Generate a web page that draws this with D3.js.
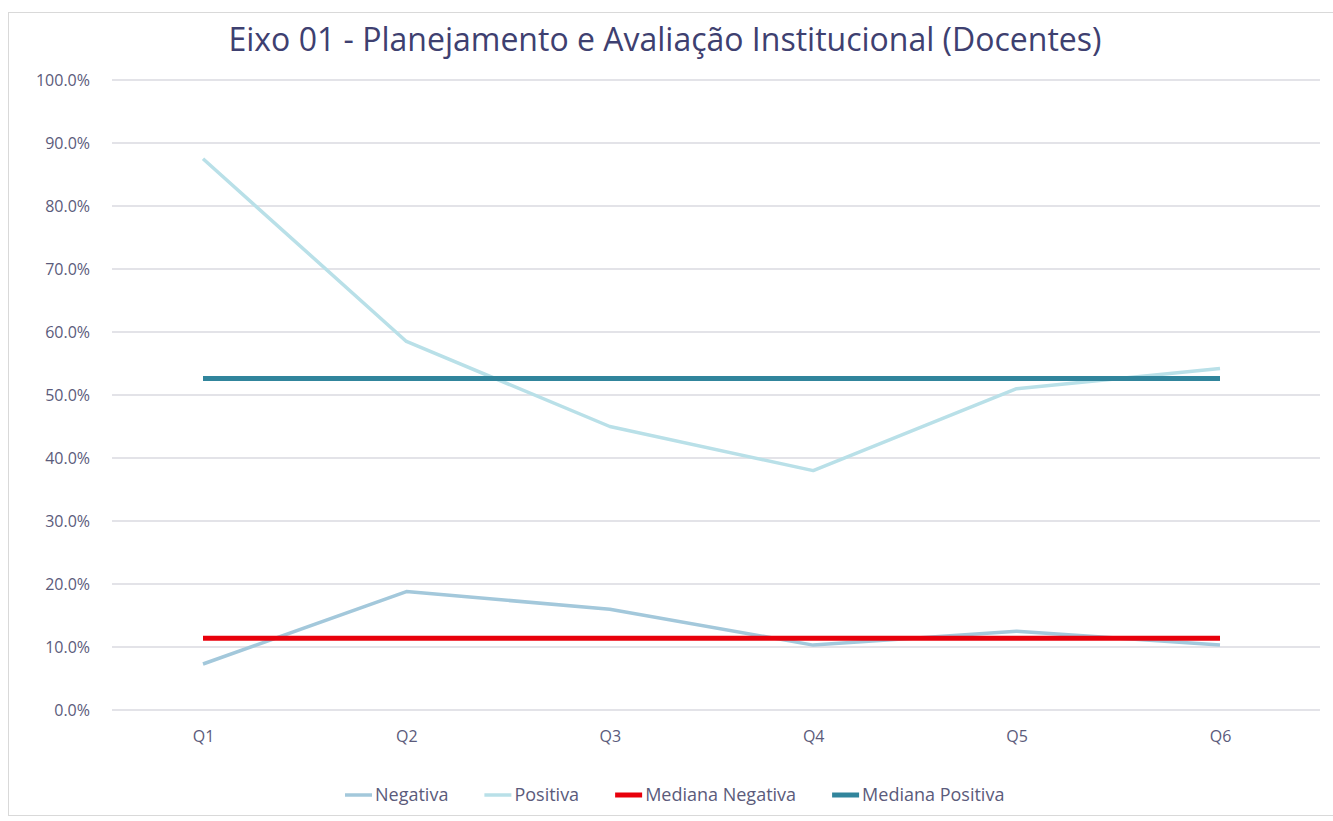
<!DOCTYPE html>
<html>
<head>
  <meta charset="utf-8">
  <title>Eixo 01 - Planejamento e Avaliação Institucional (Docentes)</title>
  <script src="https://d3js.org/d3.v7.min.js"></script>
<style>
body {
  margin: 0;
  background: #fff;
  font-family: "Open Sans", sans-serif;
}
.axis text {
  font-family: "Open Sans", sans-serif;
  font-size: 16px;
  fill: #5b5b7b;
}
.grid line {
  stroke: #dadae0;
  stroke-width: 1.5px;
}
.legend text {
  font-family: "Open Sans", sans-serif;
  font-size: 18px;
  fill: #5b5b7b;
}
</style>
</head>
<body>
<script>
var questions = ["Q1", "Q2", "Q3", "Q4", "Q5", "Q6"];
var negativa = [7.3, 18.8, 16.0, 10.3, 12.5, 10.3];
var positiva = [87.5, 58.5, 45.0, 38.0, 51.0, 54.2];
var medianaNegativa = [11.4, 11.4, 11.4, 11.4, 11.4, 11.4];
var medianaPositiva = [52.6, 52.6, 52.6, 52.6, 52.6, 52.6];
var yTicks = [0, 10, 20, 30, 40, 50, 60, 70, 80, 90, 100];

var seriesNames = ["Negativa", "Positiva", "Mediana Negativa", "Mediana Positiva"];
var seriesColors = ["#a3c8db", "#b9e0e8", "#e8000b", "#31859c"];
var seriesWidths = [3.5, 3.5, 5, 5];

var W = 1333, H = 821;

var svg = d3.select("body").append("svg")
    .attr("width", W)
    .attr("height", H);

// chart frame
svg.append("rect")
    .attr("x", 8.5).attr("y", 12.5)
    .attr("width", W - 8).attr("height", H - 18)
    .attr("fill", "#fff")
    .attr("stroke", "#d9d9d9");

var x = d3.scalePoint()
    .domain(questions)
    .range([203, 1220]);

var y = d3.scaleLinear()
    .domain([0, 100])
    .range([710, 80]);

var gridLeft = 112, gridRight = 1320;

// gridlines
svg.append("g")
    .attr("class", "grid")
    .selectAll("line")
    .data(yTicks)
  .enter().append("line")
    .attr("x1", gridLeft)
    .attr("x2", gridRight)
    .attr("y1", function(d) { return y(d); })
    .attr("y2", function(d) { return y(d); });

// y axis labels
var yAxis = d3.axisLeft(y)
    .tickValues(yTicks)
    .tickSize(0)
    .tickPadding(0)
    .tickFormat(function(d) { return d.toFixed(1) + "%"; });

svg.append("g")
    .attr("class", "axis")
    .attr("transform", "translate(90,0)")
    .call(yAxis)
    .call(function(g) { g.select(".domain").remove(); });

// x axis labels
var xAxis = d3.axisBottom(x)
    .tickSize(0)
    .tickPadding(0);

svg.append("g")
    .attr("class", "axis")
    .attr("transform", "translate(0,731)")
    .call(xAxis)
    .call(function(g) { g.select(".domain").remove(); });

var allSeries = [negativa, positiva, medianaNegativa, medianaPositiva];

var line = d3.line()
    .x(function(d, i) { return x(questions[i]); })
    .y(function(d) { return y(d); });

svg.append("g")
  .selectAll("path")
  .data(allSeries)
  .enter().append("path")
    .attr("d", line)
    .attr("fill", "none")
    .attr("stroke", function(d, i) { return seriesColors[i]; })
    .attr("stroke-width", function(d, i) { return seriesWidths[i]; })
    .attr("stroke-linejoin", "round");

// title
svg.append("text")
    .attr("x", 665)
    .attr("y", 51)
    .attr("text-anchor", "middle")
    .attr("font-size", "32px")
    .attr("fill", "#3e4070")
    .text("Eixo 01 - Planejamento e Avaliação Institucional (Docentes)");

// legend
var legend = svg.append("g").attr("class", "legend");
var lx = 345;
seriesNames.forEach(function(name, i) {
  var item = legend.append("g").attr("transform", "translate(" + lx + ",795)");
  item.append("line")
      .attr("x1", 0).attr("x2", 27)
      .attr("stroke", seriesColors[i])
      .attr("stroke-width", seriesWidths[i]);
  var t = item.append("text")
      .attr("x", 30)
      .attr("dy", "0.35em")
      .text(name);
  lx += 30 + t.node().getComputedTextLength() + 36;
});
</script>
</body>
</html>
